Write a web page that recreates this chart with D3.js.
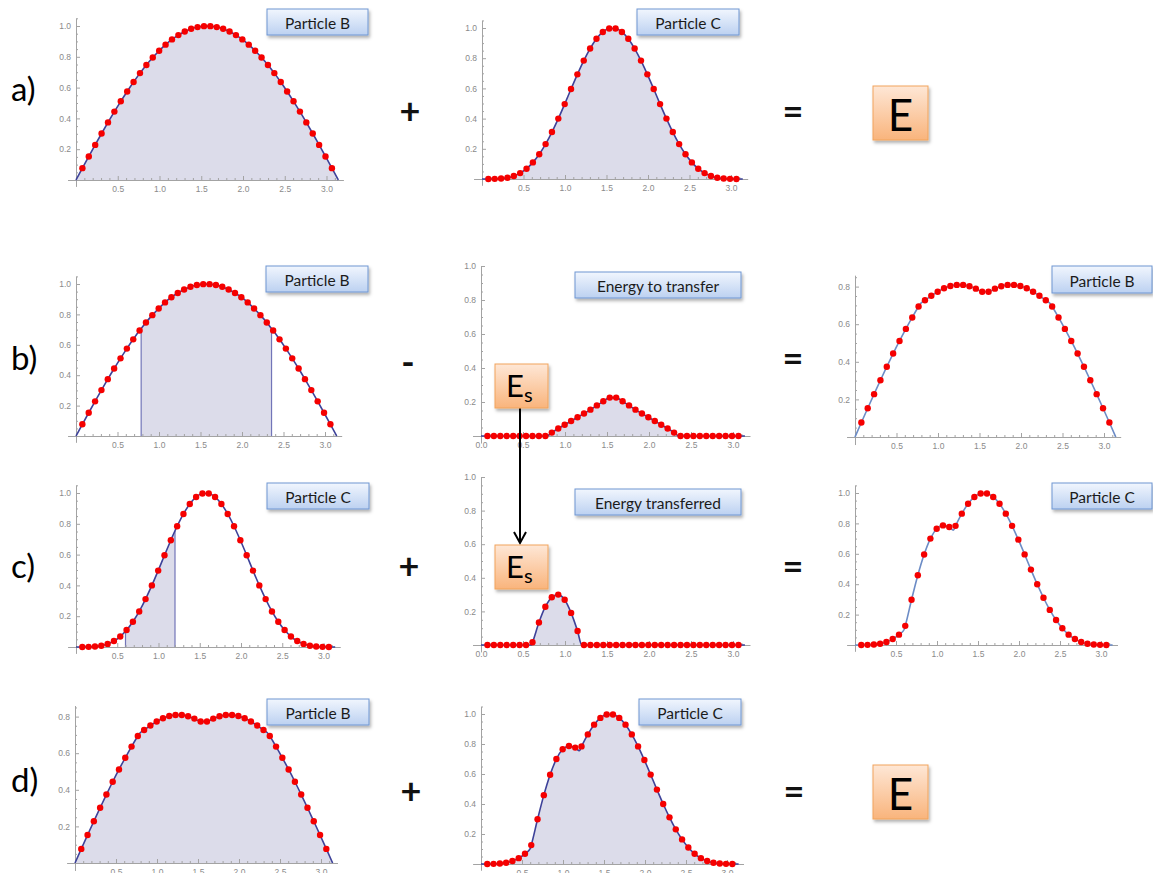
<!DOCTYPE html>
<html>
<head>
<meta charset="utf-8">
<script src="https://cdn.jsdelivr.net/npm/d3@7"></script>
<style>
  html, body { margin: 0; padding: 0; background: #fff; }
  svg { display: block; }
  .tick text { font-family: "Liberation Sans", Arial, sans-serif; font-size: 8.5px; fill: #8a8a8a; }
  .axis path, .axis line { stroke: #a3a3a3; }
</style>
</head>
<body>
<svg id="fig" width="1153" height="873"></svg>
<script>
// Sample positions along [0, pi]
const xs = [0.0766, 0.1532, 0.2299, 0.3065, 0.3831, 0.4597, 0.5364, 0.6130, 0.6896, 0.7662,
            0.8429, 0.9195, 0.9961, 1.0727, 1.1494, 1.2260, 1.3026, 1.3792, 1.4559, 1.5325,
            1.6091, 1.6857, 1.7624, 1.8390, 1.9156, 1.9922, 2.0689, 2.1455, 2.2221, 2.2987,
            2.3754, 2.4520, 2.5286, 2.6052, 2.6819, 2.7585, 2.8351, 2.9117, 2.9884, 3.0650];
const xStart = 0;
const xEnd = 3.1416;

// Particle B, initial state
const particleB = [0.077, 0.153, 0.228, 0.302, 0.374, 0.444, 0.511, 0.575, 0.636, 0.694,
                   0.747, 0.795, 0.839, 0.879, 0.913, 0.941, 0.964, 0.982, 0.993, 0.999,
                   0.999, 0.993, 0.982, 0.964, 0.941, 0.913, 0.879, 0.839, 0.795, 0.747,
                   0.694, 0.636, 0.575, 0.511, 0.444, 0.374, 0.302, 0.228, 0.153, 0.077];

// Particle C, initial state
const particleC = [0.000, 0.001, 0.003, 0.008, 0.020, 0.039, 0.068, 0.110, 0.164, 0.231,
                   0.311, 0.400, 0.496, 0.596, 0.693, 0.784, 0.864, 0.929, 0.974, 0.997,
                   0.997, 0.974, 0.929, 0.864, 0.784, 0.693, 0.596, 0.496, 0.400, 0.311,
                   0.231, 0.164, 0.110, 0.068, 0.039, 0.020, 0.008, 0.003, 0.001, 0.000];

// Energy taken out of B
const energyToTransfer = [0, 0, 0, 0, 0, 0, 0, 0, 0, 0,
                          0.020, 0.044, 0.066, 0.088, 0.110, 0.132, 0.155, 0.180, 0.204, 0.226,
                          0.226, 0.204, 0.180, 0.155, 0.132, 0.110, 0.088, 0.066, 0.044, 0.020,
                          0, 0, 0, 0, 0, 0, 0, 0, 0, 0];

// Particle B after the transfer
const particleBAfter = [0.077, 0.153, 0.228, 0.302, 0.374, 0.444, 0.511, 0.575, 0.636, 0.694,
                        0.727, 0.751, 0.773, 0.791, 0.803, 0.809, 0.809, 0.802, 0.789, 0.773,
                        0.773, 0.789, 0.802, 0.809, 0.809, 0.803, 0.791, 0.773, 0.751, 0.727,
                        0.694, 0.636, 0.575, 0.511, 0.444, 0.374, 0.302, 0.228, 0.153, 0.077];

// Energy given to C
const energyTransferred = [0, 0, 0, 0, 0, 0, 0, 0.016, 0.134, 0.228,
                           0.284, 0.300, 0.269, 0.191, 0.083, 0, 0, 0, 0, 0,
                           0, 0, 0, 0, 0, 0, 0, 0, 0, 0,
                           0, 0, 0, 0, 0, 0, 0, 0, 0, 0];

// Particle C after the transfer
const particleCAfter = [0.000, 0.001, 0.003, 0.008, 0.020, 0.039, 0.068, 0.126, 0.298, 0.459,
                        0.595, 0.700, 0.765, 0.787, 0.776, 0.784, 0.864, 0.929, 0.974, 0.997,
                        0.997, 0.974, 0.929, 0.864, 0.784, 0.693, 0.596, 0.496, 0.400, 0.311,
                        0.231, 0.164, 0.110, 0.068, 0.039, 0.020, 0.008, 0.003, 0.001, 0.000];

// Transfer windows and curve values at their edges
const bandB = [0.785, 2.356];
const bandBEdgeB = [0.707, 0.707];        // particle B at the window edges
const bandBEdgeBAfter = [0.707, 0.707];   // particle B after, at the window edges
const bandBEdgeTransfer = [0, 0];
const bandC = [0.6, 1.2];
const bandCEdgeC = [0.102, 0.755];
const bandCEdgeCAfter = [0.102, 0.755];
const bandCEdgeTransfer = [0, 0];

// Tick values
const xTicks = [0.5, 1.0, 1.5, 2.0, 2.5, 3.0];
const xTicksWithZero = [0.0, 0.5, 1.0, 1.5, 2.0, 2.5, 3.0];
const yTicksFull = [0.2, 0.4, 0.6, 0.8, 1.0];
const yTicksLow = [0.2, 0.4, 0.6, 0.8];

const rowLabels = ["a)", "b)", "c)", "d)"];

const svg = d3.select("#fig");
const defs = svg.append("defs");

const gBlue = defs.append("linearGradient").attr("id", "legendGrad").attr("x1", 0).attr("y1", 0).attr("x2", 0).attr("y2", 1);
gBlue.append("stop").attr("offset", "0%").attr("stop-color", "#f1f6fe");
gBlue.append("stop").attr("offset", "100%").attr("stop-color", "#bcd1f1");

const gOrange = defs.append("linearGradient").attr("id", "eGrad").attr("x1", 0).attr("y1", 0).attr("x2", 0).attr("y2", 1);
gOrange.append("stop").attr("offset", "0%").attr("stop-color", "#fee7d6");
gOrange.append("stop").attr("offset", "100%").attr("stop-color", "#f9b47c");

const shadow = defs.append("filter").attr("id", "shadow").attr("x", "-20%").attr("y", "-20%").attr("width", "150%").attr("height", "160%");
shadow.append("feDropShadow").attr("dx", 1.5).attr("dy", 2.5).attr("stdDeviation", 1.5).attr("flood-color", "#000").attr("flood-opacity", 0.3);

const FILL = "#dcdcea";
const LINE_DARK = "#3d4199";
const LINE_LIGHT = "#6c8cc6";

function points(values, knotsX, knotsY) {
  const pts = [[xStart, 0]];
  xs.forEach((x, i) => pts.push([x, values[i]]));
  pts.push([xEnd, 0]);
  if (knotsX) knotsX.forEach((x, i) => pts.push([x, knotsY[i]]));
  return pts.sort((a, b) => a[0] - b[0]);
}

function drawPanel(p) {
  const g = svg.append("g");
  const x = d3.scaleLinear().domain([-0.1, 3.2]).range([p.x0 - 0.1 * p.kx, p.x0 + 3.2 * p.kx]);
  const y = d3.scaleLinear().domain([-0.04, p.yTop]).range([p.y0 + 0.04 * p.ky, p.y0 - p.yTop * p.ky]);

  const pts = points(p.values, p.knotsX, p.knotsY);
  const line = d3.line().x(d => x(d[0])).y(d => y(d[1])).curve(d3.curveMonotoneX);
  const area = d3.area().x(d => x(d[0])).y0(y(0)).y1(d => y(d[1])).curve(d3.curveMonotoneX);

  // filling
  if (p.fill === "full") {
    g.append("path").attr("d", area(pts)).attr("fill", FILL);
  } else if (p.fill === "band") {
    const seg = pts.filter(d => d[0] >= p.band[0] - 1e-6 && d[0] <= p.band[1] + 1e-6);
    g.append("path").attr("d", area(seg)).attr("fill", FILL);
    p.band.forEach((bx, i) => {
      g.append("line").attr("x1", x(bx)).attr("x2", x(bx))
        .attr("y1", y(0)).attr("y2", y(p.knotsY[i]))
        .attr("stroke", "#7275b8").attr("stroke-width", 1.2);
    });
  }

  // minor ticks
  const minorX = d3.range(0, 32).map(i => i / 10).filter(v => Math.abs(v * 2 - Math.round(v * 2)) > 1e-6);
  const minorY = d3.range(1, Math.floor(p.yTop * 20) + 1).map(i => i / 20).filter(v => Math.abs(v * 5 - Math.round(v * 5)) > 1e-6);
  g.append("g").attr("class", "axis").attr("transform", `translate(0,${y(0)})`)
    .call(d3.axisBottom(x).tickValues(minorX).tickSize(-2).tickSizeOuter(0).tickFormat(""));
  g.append("g").attr("class", "axis").attr("transform", `translate(${x(0)},0)`)
    .call(d3.axisLeft(y).tickValues(minorY).tickSize(-2).tickSizeOuter(0).tickFormat(""));

  // main axes
  g.append("g").attr("class", "axis").attr("transform", `translate(0,${y(0)})`)
    .call(d3.axisBottom(x).tickValues(p.xTicks).tickSize(-4).tickSizeOuter(0).tickPadding(6).tickFormat(d3.format(".1f")));
  g.append("g").attr("class", "axis").attr("transform", `translate(${x(0)},0)`)
    .call(d3.axisLeft(y).tickValues(p.yTicks).tickSize(-4).tickSizeOuter(0).tickPadding(5).tickFormat(d3.format(".1f")));

  // curve and samples
  g.append("path").attr("d", line(pts)).attr("fill", "none")
    .attr("stroke", p.lineColor).attr("stroke-width", 1.6);
  g.selectAll("circle.pt").data(xs).enter().append("circle")
    .attr("cx", d => x(d)).attr("cy", (d, i) => y(p.values[i])).attr("r", 3.2).attr("fill", "#f50000");

  // legend
  const lg = svg.append("g");
  lg.append("rect").attr("x", p.legend[0]).attr("y", p.legend[1]).attr("width", p.legend[2]).attr("height", p.legend[3])
    .attr("fill", "url(#legendGrad)").attr("stroke", "#6f96d2").attr("stroke-width", 1).attr("filter", "url(#shadow)");
  lg.append("text").attr("x", p.legend[0] + p.legend[2] / 2).attr("y", p.legend[1] + p.legend[3] / 2 + 1)
    .attr("text-anchor", "middle").attr("dominant-baseline", "central")
    .attr("font-family", "Lato, 'Open Sans', sans-serif").attr("font-size", 15.5).attr("fill", "#1b1b1b")
    .text(p.title);
}

const panels = [
  { x0: 76, y0: 180, kx: 83.5, ky: 154, yTop: 1.05, values: particleB, fill: "full", lineColor: LINE_DARK,
    xTicks: xTicks, yTicks: yTicksFull, title: "Particle B", legend: [267, 9, 101, 26] },
  { x0: 482, y0: 179, kx: 83, ky: 151, yTop: 1.05, values: particleC, fill: "full", lineColor: LINE_DARK,
    xTicks: xTicks, yTicks: yTicksFull, title: "Particle C", legend: [637, 9, 102, 26] },
  { x0: 76, y0: 436, kx: 83, ky: 152, yTop: 1.05, values: particleB, fill: "band", band: bandB,
    knotsX: bandB, knotsY: bandBEdgeB, lineColor: LINE_DARK,
    xTicks: xTicks, yTicks: yTicksFull, title: "Particle B", legend: [266, 266, 102, 26] },
  { x0: 481, y0: 436, kx: 84, ky: 170, yTop: 1.0, values: energyToTransfer, fill: "full",
    knotsX: bandB, knotsY: bandBEdgeTransfer, lineColor: LINE_DARK,
    xTicks: xTicksWithZero, yTicks: yTicksFull, title: "Energy to transfer", legend: [575, 272, 166, 26] },
  { x0: 855, y0: 437, kx: 83, ky: 188, yTop: 0.86, values: particleBAfter, fill: "none",
    knotsX: bandB, knotsY: bandBEdgeBAfter, lineColor: LINE_LIGHT,
    xTicks: xTicks, yTicks: yTicksLow, title: "Particle B", legend: [1052, 266, 100, 27] },
  { x0: 76, y0: 647, kx: 82.5, ky: 154, yTop: 1.05, values: particleC, fill: "band", band: bandC,
    knotsX: bandC, knotsY: bandCEdgeC, lineColor: LINE_DARK,
    xTicks: xTicks, yTicks: yTicksFull, title: "Particle C", legend: [267, 483, 102, 26] },
  { x0: 481, y0: 645, kx: 84, ky: 168, yTop: 1.0, values: energyTransferred, fill: "full",
    knotsX: bandC, knotsY: bandCEdgeTransfer, lineColor: LINE_DARK,
    xTicks: xTicksWithZero, yTicks: yTicksFull, title: "Energy transferred", legend: [575, 489, 166, 26] },
  { x0: 855, y0: 645, kx: 82, ky: 152, yTop: 1.05, values: particleCAfter, fill: "none",
    knotsX: bandC, knotsY: bandCEdgeCAfter, lineColor: LINE_LIGHT,
    xTicks: xTicks, yTicks: yTicksFull, title: "Particle C", legend: [1052, 483, 100, 26] },
  { x0: 75, y0: 863, kx: 82, ky: 183, yTop: 0.86, values: particleBAfter, fill: "full",
    knotsX: bandB, knotsY: bandBEdgeBAfter, lineColor: LINE_DARK,
    xTicks: xTicks, yTicks: yTicksLow, title: "Particle B", legend: [267, 699, 102, 26] },
  { x0: 481, y0: 864, kx: 82, ky: 150, yTop: 1.05, values: particleCAfter, fill: "full",
    knotsX: bandC, knotsY: bandCEdgeCAfter, lineColor: LINE_DARK,
    xTicks: xTicks, yTicks: yTicksFull, title: "Particle C", legend: [639, 699, 102, 26] }
];

panels.forEach(drawPanel);

// Row labels
const labelY = [88, 357, 565, 779];
rowLabels.forEach((t, i) => {
  svg.append("text").attr("x", 11).attr("y", labelY[i]).attr("dominant-baseline", "central")
    .attr("font-family", "Lato, 'Open Sans', sans-serif").attr("font-size", 33).attr("fill", "#000").text(t);
});

// Operators
const ops = [
  { t: "+", x: 410, y: 110 }, { t: "=", x: 793, y: 110 },
  { t: "-", x: 408, y: 361 }, { t: "=", x: 793, y: 357 },
  { t: "+", x: 409, y: 565 }, { t: "=", x: 793, y: 565 },
  { t: "+", x: 411, y: 790 }, { t: "=", x: 794, y: 790 }
];
ops.forEach(o => {
  svg.append("text").attr("x", o.x).attr("y", o.y).attr("text-anchor", "middle").attr("dominant-baseline", "central")
    .attr("font-family", "Lato, 'Open Sans', sans-serif").attr("font-weight", 700).attr("font-size", 36)
    .attr("fill", "#111").text(o.t);
});

// Total energy boxes
[[873, 86], [873, 765]].forEach(([bx, by]) => {
  svg.append("rect").attr("x", bx).attr("y", by).attr("width", 55).attr("height", 54)
    .attr("fill", "url(#eGrad)").attr("stroke", "#f1a45c").attr("stroke-width", 1).attr("filter", "url(#shadow)");
  svg.append("text").attr("x", bx + 27.5).attr("y", by + 28).attr("text-anchor", "middle").attr("dominant-baseline", "central")
    .attr("font-family", "Lato, 'Open Sans', sans-serif").attr("font-size", 44).attr("fill", "#000").text("E");
});

// Arrow carrying E_s from B to C
svg.append("line").attr("x1", 520).attr("x2", 520).attr("y1", 408).attr("y2", 543)
  .attr("stroke", "#000").attr("stroke-width", 2);
svg.append("path").attr("d", "M514,532 L520,543 L526,532").attr("fill", "none").attr("stroke", "#000").attr("stroke-width", 2);

[[495, 364], [495, 545]].forEach(([bx, by]) => {
  svg.append("rect").attr("x", bx).attr("y", by).attr("width", 53).attr("height", 44)
    .attr("fill", "url(#eGrad)").attr("stroke", "#f1a45c").attr("stroke-width", 1).attr("filter", "url(#shadow)");
  const t = svg.append("text").attr("x", bx + 11).attr("y", by + 33)
    .attr("font-family", "Lato, 'Open Sans', sans-serif").attr("fill", "#000");
  t.append("tspan").attr("font-size", 31).text("E");
  t.append("tspan").attr("font-size", 20).attr("dy", 5).text("s");
});
</script>
</body>
</html>
